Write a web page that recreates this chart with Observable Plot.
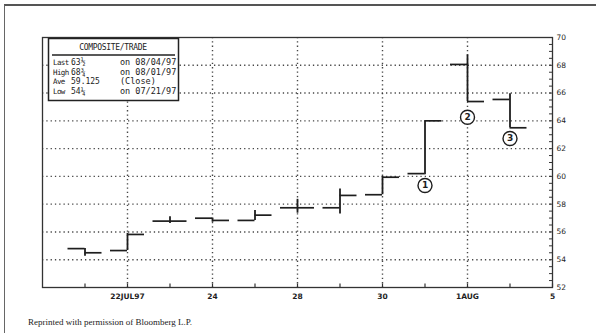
<!DOCTYPE html>
<html>
<head>
<meta charset="utf-8">
<script src="https://cdn.jsdelivr.net/npm/d3@7"></script>
<script src="https://cdn.jsdelivr.net/npm/@observablehq/plot@0.6"></script>
<style>
  html, body { margin: 0; padding: 0; background: #fff; }
  #wrap { position: relative; width: 596px; height: 333px; overflow: hidden; background: #fff; }
  #frame { position: absolute; left: 4px; top: 4px; width: 640px; height: 360px;
           border-left: 1px solid #666; border-top: 2px solid #555; }
  #chart { position: absolute; left: 0; top: 0; }
  #legend { position: absolute; left: 47px; top: 37px; }
  #caption { position: absolute; left: 28px; top: 317px; font-family: "Liberation Serif", serif;
             font-size: 9px; color: #222; white-space: nowrap; }
</style>
</head>
<body>
<div id="wrap">
  <div id="frame"></div>
  <div id="chart"></div>
  <svg id="legend" width="134" height="66"></svg>
  <div id="caption">Reprinted with permission of Bloomberg L.P.</div>
</div>
<script>
// ---- data (trading-day index: 1 = 21 Jul 1997 ... 11 = 4 Aug 1997) ----
const dayIndex = [1, 2, 3, 4, 5, 6, 7, 8, 9, 10, 11];
const dayNames = ["07/21","07/22","07/23","07/24","07/25","07/28","07/29","07/30","07/31","08/01","08/04"];
const openV  = [54.80, 54.66, 56.78, 56.99, 56.83, 57.74, 57.74, 58.68, 60.20, 68.06, 65.54];
const highV  = [54.80, 55.90, 57.10, 56.99, 57.55, 58.35, 59.10, 60.00, 64.00, 68.75, 65.95];
const lowV   = [54.25, 54.66, 56.60, 56.70, 56.83, 57.35, 57.30, 58.68, 60.12, 65.39, 63.50];
const closeV = [54.50, 55.82, 56.78, 56.83, 57.21, 57.74, 58.63, 59.94, 64.00, 65.39, 63.50];

const xTickPos    = [2, 4, 6, 8, 10, 12];
const xTickLabels = ["22JUL97", "24", "28", "30", "1AUG", "5"];
const xGridPos    = [2, 4, 6, 8, 10];
const yTickValues = [52, 54, 56, 58, 60, 62, 64, 66, 68, 70];
const yGridValues = [54, 56, 58, 60, 62, 64, 66, 68];

const noteLabels = ["1", "2", "3"];
const noteDay    = [9, 10, 11];
const noteValue  = [59.34, 64.26, 62.73];

const legendTitle = "COMPOSITE/TRADE";
const legendLabels = ["Last", "High", "Ave", "Low"];
const legendValues = ["63½", "68¾", "59.125", "54¼"];
const legendNotes  = ["on 08/04/97", "on 08/01/97", "(Close)", "on 07/21/97"];

// ---- build tables ----
const bars = dayIndex.map((i, k) => ({i, day: dayNames[k], open: openV[k], high: highV[k], low: lowV[k], close: closeV[k]}));
const notes = noteLabels.map((t, k) => ({t, i: noteDay[k], v: noteValue[k]}));
const minorY = d3.range(52, 70.001, 0.5);
const halfW = 0.4;
const ink = "#1e1e1e";

const chart = Plot.plot({
  width: 596,
  height: 310,
  marginLeft: 42,
  marginRight: 44,
  marginTop: 37,
  marginBottom: 23,
  style: {fontFamily: "DejaVu Sans, sans-serif", background: "transparent", color: ink},
  x: {domain: [0, 12], axis: null, label: null},
  y: {domain: [52, 70], axis: null, label: null},
  marks: [
    Plot.gridY(yGridValues, {stroke: "#333", strokeOpacity: 0.9, strokeWidth: 1.4, strokeDasharray: "1.3,3"}),
    Plot.gridX(xGridPos, {stroke: "#333", strokeOpacity: 0.9, strokeWidth: 1.4, strokeDasharray: "1.3,3"}),
    Plot.frame({stroke: "#333", strokeWidth: 1.3}),
    // bottom inward ticks
    Plot.ruleX(dayIndex.concat([12]), {x: d => d, y1: 52, y2: 52.25, stroke: "#333", strokeWidth: 1.2}),
    // right inward minor ticks
    Plot.ruleY(minorY, {y: d => d, x1: 11.93, x2: 12, stroke: "#333", strokeWidth: 1}),
    // OHLC bars
    Plot.ruleX(bars, {x: "i", y1: "low", y2: "high", stroke: ink, strokeWidth: 1.8}),
    Plot.ruleY(bars, {y: "open", x1: d => d.i - halfW, x2: "i", stroke: ink, strokeWidth: 1.7}),
    Plot.ruleY(bars, {y: "close", x1: "i", x2: d => d.i + halfW, stroke: ink, strokeWidth: 1.7}),
    // numbered annotations
    Plot.dot(notes, {x: "i", y: "v", r: 7, fill: "#fff", stroke: ink, strokeWidth: 1.4}),
    Plot.text(notes, {x: "i", y: "v", text: "t", fontSize: 9, fontWeight: "bold", fill: ink}),
    // axes labels
    Plot.axisY(yTickValues, {anchor: "right", label: null, tickSize: 0, tickPadding: 4, fontSize: 7.5, tickFormat: d => String(d)}),
    Plot.axisX(xTickPos, {anchor: "bottom", label: null, tickSize: 0, tickPadding: 6, fontSize: 7.5, fontWeight: "bold",
      tickFormat: (d) => xTickLabels[xTickPos.indexOf(d)]})
  ]
});
document.getElementById("chart").appendChild(chart);

// legend box (SVG overlay)
const lg = d3.select("#legend");
const mono = "DejaVu Sans Mono, monospace";
lg.append("rect").attr("x", 1.5).attr("y", 1.5).attr("width", 130).attr("height", 62)
  .attr("fill", "#fff").attr("stroke", "#222").attr("stroke-width", 1.5);
lg.append("text").attr("x", 66).attr("y", 13).attr("text-anchor", "middle")
  .attr("font-family", mono).attr("font-size", 8).attr("letter-spacing", -0.3).attr("fill", "#222")
  .text(legendTitle);
lg.append("line").attr("x1", 5).attr("x2", 128).attr("y1", 18).attr("y2", 18)
  .attr("stroke", "#222").attr("stroke-width", 1.3);
legendLabels.forEach((lab, k) => {
  const y = 28 + k * 9.5;
  lg.append("text").attr("x", 6).attr("y", y).attr("font-family", mono).attr("font-size", 7.5)
    .attr("letter-spacing", -0.6).attr("fill", "#222").text(lab);
  lg.append("text").attr("x", 24).attr("y", y).attr("font-family", mono).attr("font-size", 8)
    .attr("fill", "#222").text(legendValues[k]);
  lg.append("text").attr("x", 73).attr("y", y).attr("font-family", mono).attr("font-size", 8.5)
    .attr("fill", "#222").text(legendNotes[k]);
});
</script>
</body>
</html>
